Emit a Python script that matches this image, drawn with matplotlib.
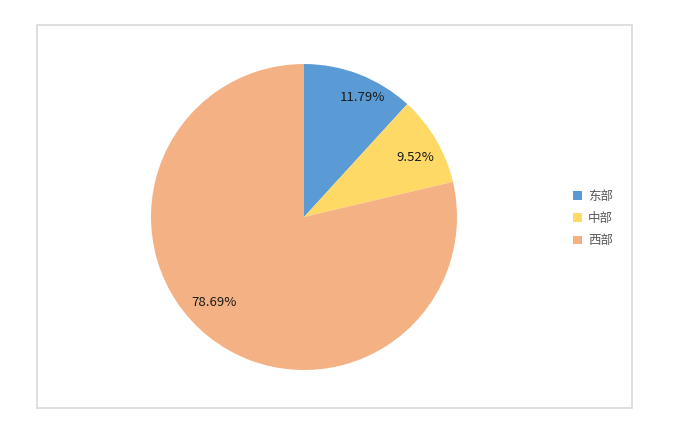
import matplotlib.pyplot as plt
from matplotlib.patches import Rectangle, Patch

plt.rcParams['font.family'] = ['Noto Sans CJK SC', 'DejaVu Sans']

# data
regions = ['东部', '中部', '西部']
shares = [11.79, 9.52, 78.69]
colors = ['#5B9BD5', '#FFD966', '#F4B183']
# where each percentage label sits (fraction of radius, like Excel's best fit)
label_pos = [(0.38, 0.78), (0.73, 0.39), (-0.59, -0.56)]

fig = plt.figure(figsize=(6.87, 4.30), dpi=100)

# light gray chart frame
fig.patches.append(Rectangle((37 / 687, 22 / 430), 595 / 687, 383 / 430,
                             transform=fig.transFigure, fill=False,
                             edgecolor='#D9D9D9', linewidth=1.2))

ax = fig.add_axes([0.2198, 0.1395, 0.4454, 0.7116])
wedges, texts, autotexts = ax.pie(
    shares, colors=colors, startangle=90, counterclock=False,
    autopct='%.2f%%', pctdistance=0.83,
    textprops=dict(fontsize=9.5, color='#1a1a1a'))
for t, pos in zip(autotexts, label_pos):
    t.set_position(pos)
ax.set_xlim(-1, 1)
ax.set_ylim(-1, 1)
ax.set_aspect('equal')

handles = [Patch(facecolor=c, label=r) for c, r in zip(colors, regions)]
fig.legend(handles=handles, loc='center left', bbox_to_anchor=(0.818, 0.492),
           frameon=False, fontsize=9, handlelength=0.7, handleheight=0.7,
           handletextpad=0.5, labelspacing=0.75, labelcolor='#595959')

fig.savefig('out.png', dpi=100)
